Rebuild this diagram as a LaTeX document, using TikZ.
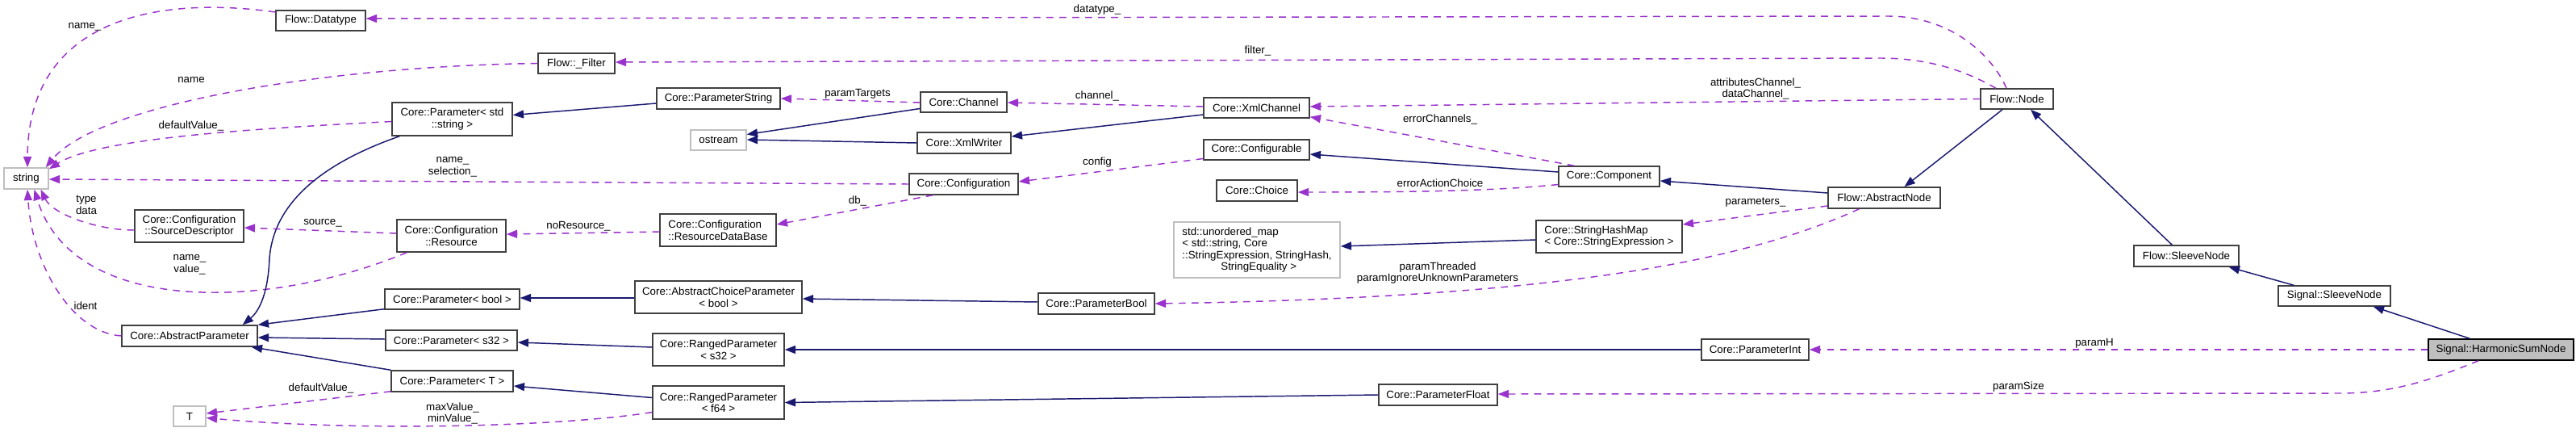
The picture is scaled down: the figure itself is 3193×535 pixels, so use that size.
\documentclass[tikz,border=0pt]{standalone}
\usepackage{fontspec}
\setmainfont{Liberation Sans}
\usetikzlibrary{arrows.meta,calc}
\definecolor{inhcol}{HTML}{191970}
\definecolor{usecol}{HTML}{9A32CD}
\definecolor{boxcol}{HTML}{404040}
\definecolor{extcol}{HTML}{BFBFBF}
\begin{document}
\begin{tikzpicture}[x=0.75pt,y=-0.75pt,
  font=\fontsize{10}{10.9}\selectfont,
  sz/.style 2 args={minimum width=#1*0.75pt,minimum height=#2*0.75pt},
  cls/.style={draw=boxcol,line width=1.1pt,fill=white,inner sep=0pt,align=center},
  ext/.style={cls,draw=extcol},
  cur/.style={cls,draw=black,fill=extcol},
  lbl/.style={inner sep=0pt,align=center},
  inhedge/.style={draw=inhcol,line width=1.1pt,-{Triangle[length=10pt,width=7.5pt]}},
  usedge/.style={draw=usecol,line width=1.1pt,dash pattern=on 6.5pt off 5.5pt,-{Triangle[length=10pt,width=7.5pt]}}]
\useasboundingbox (0,0) rectangle (3193,535);
% nodes
\node[ext,sz={55}{26}] (str) at (32.5,221) {string};
\node[cls,sz={111}{25}] (dt) at (397.5,25.5) {Flow::Datatype};
\node[cls,sz={95}{25}] (flt) at (714.5,78.5) {Flow::\_Filter};
\node[cls,sz={149}{41}] (pstr) at (560.5,147.5) {Core::Parameter< std\\::string >};
\node[cls,sz={135}{40}] (srcd) at (234.5,280) {Core::Configuration\\::SourceDescriptor};
\node[cls,sz={135}{40}] (res) at (559.5,292) {Core::Configuration\\::Resource};
\node[cls,sz={167}{25}] (pbool) at (560.5,370.5) {Core::Parameter< bool >};
\node[cls,sz={168}{26}] (ap) at (235,416) {Core::AbstractParameter};
\node[cls,sz={163}{25}] (ps32) at (559.5,421.5) {Core::Parameter< s32 >};
\node[cls,sz={151}{26}] (pT) at (560.5,472) {Core::Parameter< T >};
\node[ext,sz={40}{25}] (tT) at (235,515.5) {T};
\node[cls,sz={153}{26}] (pstring) at (890.5,122) {Core::ParameterString};
\node[cls,sz={107}{25}] (chan) at (1194.5,126.5) {Core::Channel};
\node[ext,sz={69}{25}] (ostr) at (890.5,173.5) {ostream};
\node[cls,sz={116}{26}] (xmlw) at (1195,177) {Core::XmlWriter};
\node[cls,sz={131}{25}] (xmlc) at (1557.5,133.5) {Core::XmlChannel};
\node[cls,sz={131}{25}] (cfgb) at (1557.5,185.5) {Core::Configurable};
\node[cls,sz={100}{26}] (choice) at (1558,236) {Core::Choice};
\node[cls,sz={135}{26}] (conf) at (1194.5,228) {Core::Configuration};
\node[cls,sz={144}{40},align=left] (rdb) at (890,285) {Core::Configuration\\::ResourceDataBase};
\node[ext,sz={206}{69},align=left] (umap) at (1558,309.5) {std::unordered\_map\\< std::string, Core\\::StringExpression, StringHash,\\\hspace*{36pt}StringEquality >};
\node[cls,sz={207}{40}] (acp) at (890.5,368) {Core::AbstractChoiceParameter\\< bool >};
\node[cls,sz={144}{26}] (pb) at (1359,376) {Core::ParameterBool};
\node[cls,sz={163}{40}] (rps32) at (890.5,433) {Core::RangedParameter\\< s32 >};
\node[cls,sz={163}{41}] (rpf64) at (890.5,498.5) {Core::RangedParameter\\< f64 >};
\node[cls,sz={181}{40},align=left] (shm) at (1994.5,293) {Core::StringHashMap\\< Core::StringExpression >};
\node[cls,sz={125}{25}] (comp) at (1994.5,218.5) {Core::Component};
\node[cls,sz={139}{26}] (an) at (2335.5,245) {Flow::AbstractNode};
\node[cls,sz={90}{25}] (fnode) at (2500,122.5) {Flow::Node};
\node[cls,sz={133}{26}] (pint) at (2175.5,433) {Core::ParameterInt};
\node[cls,sz={147}{26}] (pflt) at (1782.5,489) {Core::ParameterFloat};
\node[cls,sz={130}{26}] (fsn) at (2710,317) {Flow::SleeveNode};
\node[cls,sz={139}{25}] (ssn) at (2893.5,366.5) {Signal::SleeveNode};
\node[cur,sz={180}{26}] (hsn) at (3100,433) {Signal::HarmonicSumNode};
% edges
\draw[usedge] ($(fnode.north)+(-13,0)$) .. controls (2470,70) and (2420,20) .. (2340,20) -- ($(dt.east)+(0,-2.5)$);
\draw[usedge] ($(fnode.north)+(-26,0)$) .. controls (2440,90) and (2395,72) .. (2330,72) -- ($(flt.east)+(0,-1.5)$);
\draw[usedge] (fnode.west) -- ($(xmlc.east)+(0,-1.5)$);
\draw[usedge] ($(dt.west)+(0,-10.5)$) .. controls (200,-5) and (35,20) .. ($(str.north)+(1.5,0)$);
\draw[usedge] (flt.west) .. controls (400,82) and (120,130) .. ($(str.north east)+(-4,0)$);
\draw[usedge] ($(pstr.west)+(0,3)$) .. controls (300,160) and (120,172) .. ($(str.north east)+(0,2)$);
\draw[usedge] (conf.west) -- ($(str.east)+(0,1)$);
\draw[usedge] ($(srcd.west)+(0,5)$) .. controls (120,285) and (65,265) .. ($(str.south)+(18,0)$);
\draw[usedge] ($(res.south west)+(13,0)$) .. controls (330,385) and (90,390) .. ($(str.south)+(10,0)$);
\draw[usedge] (ap.west) .. controls (90,412) and (40,330) .. ($(str.south)+(1.5,0)$);
\draw[inhedge] ($(pstr.south west)+(10,0)$) .. controls (420,195) and (340,240) .. (334,320) .. controls (332,370) and (318,388) .. ($(ap.north east)+(-19,0)$);
\draw[inhedge] ($(pstring.west)+(0,6)$) -- ($(pstr.east)+(0,-5)$);
\draw[usedge] ($(chan.west)+(0,0.5)$) -- (pstring.east);
\draw[inhedge] ($(chan.west)+(0,8)$) -- ($(ostr.east)+(0,-7)$);
\draw[inhedge] (xmlw.west) -- ($(ostr.east)+(0,-0.5)$);
\draw[usedge] ($(xmlc.west)+(0,-1.5)$) -- ($(chan.east)+(0,0.5)$);
\draw[inhedge] ($(xmlc.west)+(0,8.5)$) -- ($(xmlw.east)+(0,-8)$);
\draw[usedge] ($(comp.north west)+(20,0)$) -- ($(xmlc.south east)+(0,-2)$);
\draw[inhedge] ($(comp.west)+(0,-5.5)$) -- ($(cfgb.east)+(0,5.5)$);
\draw[usedge] ($(comp.west)+(0,10)$) .. controls (1860,236) and (1760,238) .. ($(choice.east)+(0,2)$);
\draw[usedge] ($(cfgb.west)+(0,11)$) -- ($(conf.east)+(0,-3)$);
\draw[usedge] ($(conf.south west)+(30,0)$) -- ($(rdb.east)+(0,-7)$);
\draw[usedge] ($(rdb.west)+(0,2)$) -- ($(res.east)+(0,-2)$);
\draw[usedge] ($(res.west)+(0,-3)$) -- ($(srcd.east)+(0,2)$);
\draw[inhedge] ($(an.west)+(0,-6)$) -- ($(comp.east)+(0,5.5)$);
\draw[inhedge] ($(fnode.south)+(-18,0)$) -- ($(an.north)+(25,0)$);
\draw[usedge] ($(an.west)+(0,10)$) -- ($(shm.east)+(0,-15)$);
\draw[inhedge] ($(shm.west)+(0,4)$) -- ($(umap.east)+(0,-4.5)$);
\draw[usedge] ($(an.south)+(-31,0)$) .. controls (2170,320) and (1950,368) .. (pb.east);
\draw[inhedge] ($(pb.west)+(0,-2)$) -- ($(acp.east)+(0,2)$);
\draw[inhedge] ($(acp.west)+(0,1)$) -- ($(pbool.east)+(0,-1.5)$);
\draw[inhedge] ($(pbool.south west)+(0,-1)$) -- (ap.north east);
\draw[inhedge] ($(ps32.west)+(0,-1.5)$) -- ($(ap.east)+(0,2)$);
\draw[inhedge] (pT.north west) -- ($(ap.south east)+(-8,0)$);
\draw[inhedge] ($(rps32.west)+(0,-3)$) -- ($(ps32.east)+(0,2.5)$);
\draw[inhedge] ($(rpf64.west)+(0,-6)$) -- ($(pT.east)+(0,6)$);
\draw[usedge] ($(pT.south west)+(0,-1)$) -- ($(tT.east)+(0,-3.5)$);
\draw[usedge] ($(rpf64.west)+(0,12)$) .. controls (700,528) and (450,535) .. ($(tT.east)+(0,2)$);
\draw[inhedge] (pint.west) -- (rps32.east);
\draw[inhedge] (pflt.west) -- (rpf64.east);
\draw[usedge] (hsn.west) -- (pint.east);
\draw[usedge] ($(hsn.south west)+(63,0)$) .. controls (3010,472) and (2965,487) .. (2900,487) -- ($(pflt.east)+(0,-1)$);
\draw[inhedge] ($(hsn.north west)+(52,0)$) -- ($(ssn.south east)+(-22,0)$);
\draw[inhedge] ($(ssn.north west)+(20,0)$) -- ($(fsn.south east)+(-13,0)$);
\draw[inhedge] ($(fsn.north west)+(48,0)$) -- ($(fnode.south)+(17,0)$);
% labels
\node[lbl] (l1) at (1360,12) {datatype\_};
\node[lbl] (l2) at (1559,63) {filter\_};
\node[lbl] (l3) at (2176,110) {attributesChannel\_\\dataChannel\_};
\node[lbl] (l4) at (105,33) {name\_};
\node[lbl] (l5) at (237,99) {name};
\node[lbl] (l6) at (237,156) {defaultValue\_};
\node[lbl] (l7) at (561,207) {name\_\\selection\_};
\node[lbl] (l8) at (107,254) {type\\data};
\node[lbl] (l9) at (400,276) {source\_};
\node[lbl] (l10) at (717,280) {noResource\_};
\node[lbl] (l11) at (235,328) {name\_\\value\_};
\node[lbl] (l12) at (106,379) {ident};
\node[lbl] (l13) at (398,481) {defaultValue\_};
\node[lbl] (l14) at (561,512) {maxValue\_\\minValue\_};
\node[lbl] (l15) at (1063,116) {paramTargets};
\node[lbl] (l16) at (1360,119) {channel\_};
\node[lbl] (l17) at (1360,201) {config};
\node[lbl] (l18) at (1063,249) {db\_};
\node[lbl] (l19) at (1785,148) {errorChannels\_};
\node[lbl] (l20) at (1785,227) {errorActionChoice};
\node[lbl] (l21) at (2176,251) {parameters\_};
\node[lbl] (l22) at (1782,338) {paramThreaded\\paramIgnoreUnknownParameters};
\node[lbl] (l23) at (2596,425) {paramH};
\node[lbl] (l24) at (2502,479) {paramSize};
\end{tikzpicture}
\end{document}
